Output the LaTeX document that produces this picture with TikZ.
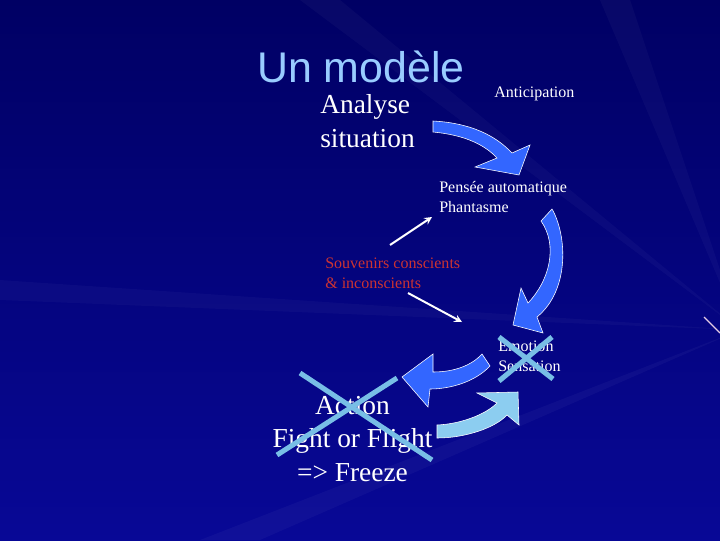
\documentclass[tikz,border=0pt]{standalone}
\usepackage{fontspec}
\setmainfont{Liberation Serif}
\newfontfamily\arialfont{Liberation Sans}
\usetikzlibrary{arrows}
\definecolor{fondHaut}{RGB}{0,0,100}
\definecolor{fondBas}{RGB}{8,8,150}
\definecolor{titreBleu}{RGB}{153,204,255}
\definecolor{flecheBleu}{RGB}{51,102,255}
\definecolor{flecheClair}{RGB}{140,205,240}
\definecolor{croixBleu}{RGB}{120,190,230}
\definecolor{souvRouge}{RGB}{204,51,51}
\begin{document}
\begin{tikzpicture}[x=0.025cm,y=-0.025cm,>=stealth,
	bigtext/.style={text=white,inner sep=0pt,font=\fontsize{19.5}{23.5}\selectfont},
	smalltext/.style={text=white,inner sep=0pt,font=\fontsize{11.4}{13.6}\selectfont},
	bloc/.style={draw=white,line width=0.4pt},
	croix/.style={draw=croixBleu,line width=3.6pt},
	fine/.style={->,draw=white,line width=1.4pt}]
	
	% fond
	\useasboundingbox (0,0) rectangle (720,540);
	\begin{scope}
	\clip (0,0) rectangle (720,540);
	\shade[top color=fondHaut,bottom color=fondBas] (0,0) rectangle (720,540);
	\fill[white,opacity=0.03] (740,330) -- (0,280) -- (0,300) -- cycle;
	\fill[white,opacity=0.03] (740,330) -- (300,0) -- (340,0) -- cycle;
	\fill[white,opacity=0.035] (740,330) -- (200,540) -- (260,540) -- cycle;
	\fill[white,opacity=0.03] (740,330) -- (600,0) -- (630,0) -- cycle;
	\end{scope}
	\draw[white!80!violet,line width=0.8pt] (704,317) -- (720,333);
	
	% titre et textes
	\node[anchor=base west,inner sep=0pt,text=titreBleu,font=\arialfont\fontsize{30.5}{36}\selectfont] (titre) at (257,82) {Un modèle};
	\node[bigtext,anchor=base west,align=left] (analyse) at (320,147) {Analyse\\situation};
	\node[smalltext,anchor=base west] (anticip) at (494,97) {Anticipation};
	\node[smalltext,anchor=base west,align=left] (pensee) at (439,212) {Pensée automatique\\Phantasme};
	\node[smalltext,anchor=base west,align=left,text=souvRouge] (souvenirs) at (325,288) {Souvenirs conscients\\\& inconscients};
	\node[smalltext,anchor=base west,align=left] (emotion) at (498,371) {Emotion\\Sensation};
	\node[bigtext,anchor=base,align=center] (action) at (352.5,481) {Action\\Fight or Flight\\=> Freeze};
	
	% grosses fleches
	\filldraw[bloc,fill=flecheBleu] (433,121) .. controls (470,123) and (495,135) .. (512,153) -- (530,145) -- (519,175) -- (475,167) -- (497,158) .. controls (485,145) and (465,135) .. (433,132) -- cycle;
	\filldraw[bloc,fill=flecheBleu] (552,209) .. controls (567,235) and (570,290) .. (537,317) -- (543,333) -- (513,325) -- (521,288) -- (528,303) .. controls (550,280) and (558,245) .. (541,221) -- cycle;
	\filldraw[bloc,fill=flecheBleu] (482,354) -- (490,366) .. controls (475,382) and (450,389) .. (430,389) -- (428,407) -- (402,377) -- (433,354) -- (433,372) .. controls (455,372) and (472,365) .. (482,354) -- cycle;
	\filldraw[bloc,fill=flecheClair] (437,425) .. controls (460,424) and (485,415) .. (497,403) -- (477,393) -- (518,392) -- (519,425) -- (507,415) .. controls (495,428) and (465,438) .. (437,438) -- cycle;
	
	% fleches fines
	\coordinate (aS) at (390,245);
	\coordinate (aE) at (432,217);
	\coordinate (bS) at (408,293);
	\coordinate (bE) at (462,322);
	\draw[fine] (aS) -- (aE);
	\draw[fine] (bS) -- (bE);
	
	% croix
	\draw[croix] (300,373) -- (432,460);
	\draw[croix] (397,378) -- (277,455);
	\draw[croix] (499,337) -- (553,379);
	\draw[croix] (552,337) -- (499,381);
\end{tikzpicture}
\end{document}
